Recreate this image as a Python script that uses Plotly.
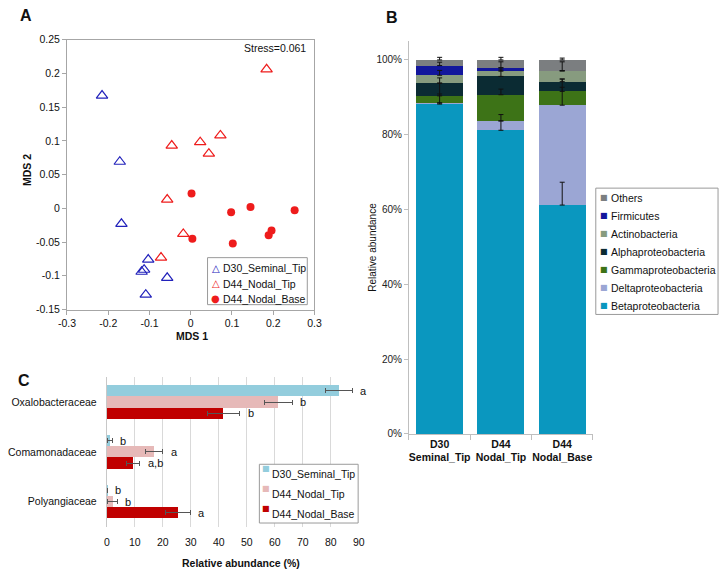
import plotly.graph_objects as go

# ---- panel A: NMDS ordination ----
mds_groups = ["D30_Seminal_Tip", "D44_Nodal_Tip", "D44_Nodal_Base"]
seminal_tip_x = [-0.215, -0.172, -0.168, -0.103, -0.113, -0.119, -0.057, -0.109]
seminal_tip_y = [0.167, 0.069, -0.023, -0.076, -0.091, -0.094, -0.103, -0.128]
nodal_tip_x = [0.184, -0.046, 0.023, 0.072, 0.044, -0.057, -0.018, -0.072]
nodal_tip_y = [0.206, 0.093, 0.098, 0.108, 0.081, 0.013, -0.038, -0.073]
nodal_base_x = [0.002, 0.004, 0.098, 0.145, 0.252, 0.102, 0.189, 0.196]
nodal_base_y = [0.022, -0.045, -0.006, 0.002, -0.003, -0.052, -0.040, -0.033]
mds_xticks = [-0.3, -0.2, -0.1, 0, 0.1, 0.2, 0.3]
mds_xlabels = ["-0.3", "-0.2", "-0.1", "0", "0.1", "0.2", "0.3"]
mds_yticks = [-0.15, -0.1, -0.05, 0, 0.05, 0.1, 0.15, 0.2, 0.25]
mds_ylabels = ["-0.15", "-0.1", "-0.05", "0", "0.05", "0.1", "0.15", "0.2", "0.25"]

# ---- panel B: class composition (stack order bottom -> top) ----
samples = ["D30<br>Seminal_Tip", "D44<br>Nodal_Tip", "D44<br>Nodal_Base"]
phyla = ["Betaproteobacteria", "Deltaproteobacteria", "Gammaproteobacteria",
         "Alphaproteobacteria", "Actinobacteria", "Firmicutes", "Others"]
beta = [88.2, 81.2, 61.2]
delta = [0.3, 2.5, 26.7]
gamma = [1.9, 7.0, 3.7]
alpha = [3.4, 4.9, 2.6]
actino = [2.1, 1.4, 2.9]
firmicutes = [2.6, 0.9, 0.0]
others = [1.5, 2.1, 2.9]
beta_err = [2.7, 4.2, 6.1]
delta_err = [0.0, 0.0, 7.0]
gamma_err = [3.4, 1.5, 1.1]
alpha_err = [1.4, 2.3, 0.7]
actino_err = [1.3, 0.3, 2.4]
firmicutes_err = [0.9, 1.6, 0.0]
others_err = [0.7, 0.7, 0.5]
pct_ticks = [0, 20, 40, 60, 80, 100]
pct_labels = ["0%", "20%", "40%", "60%", "80%", "100%"]

# ---- panel C: family abundance ----
families = ["Oxalobacteraceae", "Comamonadaceae", "Polyangiaceae"]
d30_tip = [82.9, 1.2, 0.1]
d30_tip_err = [4.7, 0.8, 0.1]
d44_tip = [61.2, 17.0, 2.1]
d44_tip_err = [5.0, 3.0, 1.7]
d44_base = [41.6, 9.3, 25.4]
d44_base_err = [5.8, 2.4, 4.4]
d30_letters = ["a", "b", "b"]
tip_letters = ["b", "a", "b"]
base_letters = ["b", "a,b", "a"]

W, H = 727, 577
FONT = "Liberation Sans, Arial, sans-serif"


def px(x):
    return x / W


def py(y):
    return 1 - y / H


fig = go.Figure()

# panel A
blue = "#2222bb"
red = "#ee1c1c"
fig.add_trace(go.Scatter(x=seminal_tip_x, y=seminal_tip_y, mode="markers", name=mds_groups[0],
                         marker=dict(symbol="triangle-up-open", size=10, color=blue, line=dict(width=1.2)),
                         xaxis="x", yaxis="y"))
fig.add_trace(go.Scatter(x=nodal_tip_x, y=nodal_tip_y, mode="markers", name=mds_groups[1],
                         marker=dict(symbol="triangle-up-open", size=10, color=red, line=dict(width=1.2)),
                         xaxis="x", yaxis="y"))
fig.add_trace(go.Scatter(x=nodal_base_x, y=nodal_base_y, mode="markers", name=mds_groups[2],
                         marker=dict(symbol="circle", size=8, color=red),
                         xaxis="x", yaxis="y"))

# panel B
phylum_colors = ["#0a97bf", "#9ba6d4", "#3d7317", "#0b2b33", "#879b7f", "#12169c", "#7b7e80"]
series = [beta, delta, gamma, alpha, actino, firmicutes, others]
series_err = [beta_err, delta_err, gamma_err, alpha_err, actino_err, firmicutes_err, others_err]
for name, vals, col in zip(phyla, series, phylum_colors):
    fig.add_trace(go.Bar(x=samples, y=vals, name=name, marker=dict(color=col, line=dict(width=0)),
                         xaxis="x2", yaxis="y2"))

# error bars (plus only) drawn on top of every segment, at each segment's stacked top
running = [0, 0, 0]
for vals, err in zip(series, series_err):
    running = [r + v for r, v in zip(running, vals)]
    fig.add_trace(go.Scatter(x=samples, y=running, mode="markers", marker=dict(size=0.1, opacity=0),
                             error_y=dict(type="data", symmetric=False,
                                          array=[e if e > 0 else None for e in err],
                                          arrayminus=[0, 0, 0], color="#111111", thickness=1, width=2.5),
                             xaxis="x2", yaxis="y2", hoverinfo="skip"))

# panel C
c_colors = ["#93cddd", "#e6b9b8", "#c00000"]
c_vals = [d30_tip, d44_tip, d44_base]
c_errs = [d30_tip_err, d44_tip_err, d44_base_err]
bar_h = (1 - 0.33) / 3
for i, (name, vals, err, col) in enumerate(zip(mds_groups, c_vals, c_errs, c_colors)):
    fig.add_trace(go.Bar(y=families, x=vals, orientation="h", name=name,
                         marker=dict(color=col, line=dict(width=0)),
                         offsetgroup=str(i), width=bar_h, offset=-1.5 * bar_h + i * bar_h,
                         error_x=dict(type="data", array=err, color="#555555", thickness=1, width=2.5),
                         xaxis="x3", yaxis="y3"))

axis_grey = "#a6a6a6"
tickfont = dict(family=FONT, size=10.5, color="#111111")
fig.update_layout(
    width=W, height=H, margin=dict(l=0, r=0, t=0, b=0),
    paper_bgcolor="white", plot_bgcolor="white", showlegend=False,
    font=dict(family=FONT, color="#111111"),
    barmode="stack", bargap=0.234,
    xaxis=dict(domain=[px(59.3), px(312.3)], anchor="y", range=[-0.3, 0.3],
               tickvals=mds_xticks, ticktext=mds_xlabels, tickfont=tickfont,
               showline=True, mirror=True, linecolor=axis_grey, linewidth=1,
               ticks="outside", ticklen=4, tickcolor=axis_grey, showgrid=False, zeroline=False),
    yaxis=dict(domain=[py(310), py(34.3)], anchor="x", range=[-0.15, 0.25],
               tickvals=mds_yticks, ticktext=mds_ylabels, tickfont=tickfont,
               showline=True, mirror=True, linecolor=axis_grey, linewidth=1,
               ticks="outside", ticklen=4, tickcolor=axis_grey, showgrid=False, zeroline=False),
    xaxis2=dict(domain=[px(409), px(597)], anchor="y2", type="category", range=[-0.5, 2.5],
                tickfont=dict(family=FONT, size=10.5, color="#111111", weight="bold"), tickangle=0,
                showline=True, linecolor="#bfbfbf", ticks="outside", ticklen=5,
                tickcolor="#bfbfbf", tickson="boundaries", showgrid=False),
    yaxis2=dict(domain=[py(437), py(36)], anchor="x2", range=[0, 105],
                tickvals=pct_ticks, ticktext=pct_labels, tickfont=dict(family=FONT, size=10, color="#222222"),
                showline=True, linecolor="#bfbfbf", ticks="outside", ticklen=4,
                tickcolor="#bfbfbf", showgrid=False, zeroline=False),
    xaxis3=dict(domain=[px(100), px(357.7)], anchor="y3", range=[0, 90], dtick=10,
                tickfont=dict(family=FONT, size=10.5, color="#111111"), ticklabelstandoff=8,
                showgrid=True, gridcolor="#d9d9d9", showline=False, zeroline=False),
    yaxis3=dict(domain=[py(531.7), py(379)], anchor="x3", type="category",
                categoryorder="array", categoryarray=families, range=[2.5, -0.5],
                tickfont=dict(family=FONT, size=10.5, color="#111111"), ticklabelstandoff=7,
                showline=True, linecolor="#c8c8c8", showgrid=False),
)

annotations = []


def note(x, y, text, size=10.5, bold=False, xanchor="center", yanchor="middle", **kw):
    annotations.append(dict(x=x, y=y, xref="paper", yref="paper", text=text, showarrow=False,
                            xanchor=xanchor, yanchor=yanchor, borderpad=0,
                            font=dict(family=FONT, size=size, color="#111111",
                                      weight="bold" if bold else "normal"), **kw))


# panel labels and titles
note(px(17), py(10), "A", size=16, bold=True)
note(px(392), py(12), "B", size=16, bold=True)
note(px(15), py(382), "C", size=16, bold=True)
note(px(187), py(337), "MDS 1", bold=True)
note(px(18), py(168), "MDS 2", bold=True, textangle=-90)
note(px(305), py(43), "Stress=0.061", size=10.5, xanchor="right")
note(px(372), py(246), "Relative abundance", size=10, textangle=-90)
note(px(237), py(569), "Relative abundance (%)", bold=True)

shapes = []


def legend_box(x0, y0, x1, y1):
    shapes.append(dict(type="rect", xref="paper", yref="paper", x0=px(x0), x1=px(x1),
                       y0=py(y1), y1=py(y0), line=dict(color="#9a9a9a", width=1),
                       fillcolor="white", layer="above"))


def legend_symbol(x, y, sym, col, size):
    annotations.append(dict(x=px(x), y=py(y), xref="paper", yref="paper", text=sym, showarrow=False,
                            xanchor="right", borderpad=0,
                            font=dict(family="DejaVu Sans", size=size, color=col)))


# legend A
legend_box(203, 257, 305, 305)
for i, (sym, col, name) in enumerate(zip(["△", "△", "●"], [blue, red, red], mds_groups)):
    yy = 268 + i * 15.5
    legend_symbol(217, yy, sym, col, 10)
    note(px(217.5), py(yy), name, size=10.5, xanchor="left")

# legend B (top to bottom: reverse of stack order)
legend_box(600, 186, 725, 315)
for i, (name, col) in enumerate(zip(phyla[::-1], phylum_colors[::-1])):
    yy = 195.7 + i * 18.4
    legend_symbol(614, yy, "■", col, 8)
    note(px(614.5), py(yy), name, size=10.5, xanchor="left")

# legend C
legend_box(256, 468, 357, 528)
for i, (name, col) in enumerate(zip(mds_groups, c_colors)):
    yy = 478 + i * 20.3
    legend_symbol(267.5, yy, "■", col, 8)
    note(px(268), py(yy), name, size=10.5, xanchor="left")

# significance letters in C
cat_px = (531.7 - 379) / len(families)
for i, (vals, errs, letters) in enumerate(zip(c_vals, c_errs, [d30_letters, tip_letters, base_letters])):
    for fam, v, e, let in zip(families, vals, errs, letters):
        annotations.append(dict(x=v + e, y=fam, xref="x3", yref="y3", text=let, showarrow=False,
                                xanchor="left", xshift=6, yshift=(1 - i) * bar_h * cat_px,
                                font=dict(family=FONT, size=11, color="#111111")))

fig.update_layout(annotations=annotations, shapes=shapes)

# the page body has a default 8px margin; remove it so the figure fills the window
fig.write_html("out.html", config={"displayModeBar": False},
               post_script="document.body.style.margin='0';")
